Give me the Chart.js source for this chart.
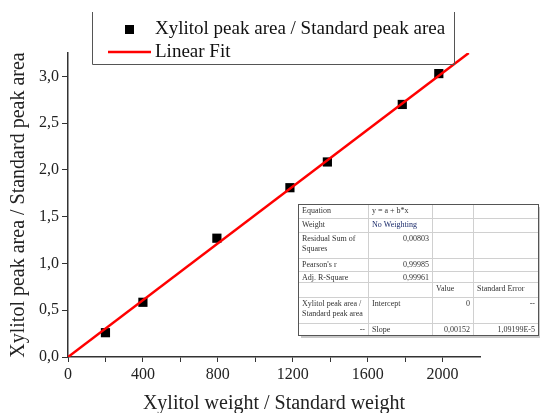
<!DOCTYPE html>
<html>
<head>
<meta charset="utf-8">
<script src="https://cdn.jsdelivr.net/npm/chart.js@4"></script>
<style>
  html, body { margin: 0; padding: 0; background: #fff; }
  #wrap { width: 540px; height: 413px; position: relative; }
</style>
</head>
<body>
<div id="wrap"><canvas id="chart"></canvas></div>
<script>
// measured points
const weightRatio = [200, 400, 795, 1185, 1385, 1785, 1980];
const areaRatio = [0.26, 0.585, 1.27, 1.81, 2.085, 2.70, 3.03];

// fit line ends (clipped at top of plot)
const fitX = [0, 2140];
const fitY = [0, 3.25];

// fit report table
const tableRows = [
  ["Equation", "y = a + b*x", "", ""],
  ["Weight", "No Weighting", "", ""],
  ["Residual Sum of\nSquares", "0,00803", "", ""],
  ["Pearson's r", "0,99985", "", ""],
  ["Adj. R-Square", "0,99961", "", ""],
  ["", "", "Value", "Standard Error"],
  ["Xylitol peak area /\nStandard peak area", "Intercept", "0", "--"],
  ["--", "Slope", "0,00152", "1,09199E-5"]
];

const serif = "'Liberation Serif', 'DejaVu Serif', serif";

const pointData = weightRatio.map((x, i) => ({ x: x, y: areaRatio[i] }));
const fitData = fitX.map((x, i) => ({ x: x, y: fitY[i] }));

// legend + table drawn by hand
const extras = {
  id: 'extras',
  afterDraw(chart) {
    const ctx = chart.ctx;
    ctx.save();

    // legend box (no top border, it runs off the top)
    ctx.strokeStyle = '#555';
    ctx.lineWidth = 1;
    ctx.beginPath();
    ctx.moveTo(92.5, 12);
    ctx.lineTo(92.5, 64.5);
    ctx.lineTo(454.5, 64.5);
    ctx.lineTo(454.5, 12);
    ctx.stroke();

    ctx.fillStyle = '#000';
    ctx.fillRect(125, 25, 9, 9);
    ctx.strokeStyle = '#ff0000';
    ctx.lineWidth = 2.5;
    ctx.beginPath();
    ctx.moveTo(108, 52);
    ctx.lineTo(151, 52);
    ctx.stroke();

    ctx.font = '19px ' + serif;
    ctx.textBaseline = 'middle';
    ctx.textAlign = 'left';
    ctx.fillStyle = '#111';
    ctx.fillText(chart.data.datasets[1].label, 155, 29);
    ctx.fillText(chart.data.datasets[0].label, 155, 52);

    // table
    const cx = [298, 368, 432, 473, 538];
    const ry = [204, 218, 232, 258, 271, 282, 297, 323, 335];
    ctx.fillStyle = '#c8c8c8';
    ctx.fillRect(cx[0] + 3, ry[0] + 3, cx[4] - cx[0], ry[8] - ry[0]);
    ctx.fillStyle = '#fff';
    ctx.fillRect(cx[0], ry[0], cx[4] - cx[0], ry[8] - ry[0]);

    ctx.strokeStyle = '#d0d0d0';
    ctx.lineWidth = 1;
    for (let i = 1; i < ry.length - 1; i++) {
      ctx.beginPath();
      ctx.moveTo(cx[0], ry[i] + 0.5);
      ctx.lineTo(cx[4], ry[i] + 0.5);
      ctx.stroke();
    }
    for (let j = 1; j < cx.length - 1; j++) {
      ctx.beginPath();
      ctx.moveTo(cx[j] + 0.5, ry[0]);
      ctx.lineTo(cx[j] + 0.5, ry[8]);
      ctx.stroke();
    }
    ctx.strokeStyle = '#555';
    ctx.strokeRect(cx[0] + 0.5, ry[0] + 0.5, cx[4] - cx[0], ry[8] - ry[0]);

    ctx.font = '8px ' + serif;
    ctx.textBaseline = 'top';
    tableRows.forEach((row, r) => {
      row.forEach((txt, c) => {
        if (!txt) return;
        const lines = txt.split('\n');
        const numeric = /^[0-9-]/.test(txt) && !(r === 0);
        ctx.fillStyle = (r === 1 && c === 1) ? '#1a2a6a' : '#333';
        lines.forEach((ln, k) => {
          const y = ry[r] + 3 + k * 10;
          if (numeric) {
            ctx.textAlign = 'right';
            ctx.fillText(ln, cx[c + 1] - 3, y);
          } else {
            ctx.textAlign = 'left';
            ctx.fillText(ln, cx[c] + 4, y);
          }
        });
      });
    });

    ctx.restore();
  }
};

new Chart(document.getElementById('chart'), {
  type: 'scatter',
  data: {
    datasets: [
      {
        label: 'Linear Fit',
        data: fitData,
        showLine: true,
        borderColor: '#ff0000',
        borderWidth: 2.5,
        pointRadius: 0,
        fill: false
      },
      {
        label: 'Xylitol peak area / Standard peak area',
        data: pointData,
        pointStyle: 'rect',
        pointRadius: 6.5,
        backgroundColor: '#000',
        borderColor: '#000',
        borderWidth: 0
      }
    ]
  },
  options: {
    responsive: true,
    maintainAspectRatio: false,
    animation: false,
    layout: { padding: { top: 53, right: 60, left: 0, bottom: 0 } },
    plugins: {
      legend: { display: false },
      tooltip: { enabled: false }
    },
    scales: {
      x: {
        type: 'linear',
        min: 0,
        max: 2200,
        afterFit: s => { s.height = 56; },
        afterBuildTicks: s => { s.ticks = s.ticks.filter(t => t.value < 2200); },
        border: { color: '#333', width: 1.5 },
        grid: { drawOnChartArea: false, tickLength: 5, tickColor: '#333', tickWidth: 1 },
        ticks: {
          stepSize: 200,
          autoSkip: false,
          maxRotation: 0,
          padding: 3,
          color: '#222',
          font: { family: serif, size: 16 },
          callback: v => (v % 400 === 0 ? String(v) : '')
        },
        title: {
          display: true,
          text: 'Xylitol weight / Standard weight',
          color: '#222',
          font: { family: serif, size: 20 },
          padding: { top: 0, bottom: -3 }
        }
      },
      y: {
        type: 'linear',
        min: 0,
        max: 3.25,
        afterFit: s => { s.width = 68; },
        afterBuildTicks: s => { s.ticks = s.ticks.filter(t => Math.abs(t.value * 2 - Math.round(t.value * 2)) < 1e-6); },
        border: { color: '#333', width: 1.5 },
        grid: { drawOnChartArea: false, tickLength: 6, tickColor: '#333', tickWidth: 1 },
        ticks: {
          stepSize: 0.5,
          padding: 3,
          color: '#222',
          font: { family: serif, size: 16 },
          callback: v => v.toFixed(1).replace('.', ',')
        },
        title: {
          display: true,
          text: 'Xylitol peak area / Standard peak area',
          color: '#222',
          font: { family: serif, size: 20 },
          padding: { top: 7, bottom: 0 }
        }
      }
    }
  },
  plugins: [extras]
});
</script>
</body>
</html>
